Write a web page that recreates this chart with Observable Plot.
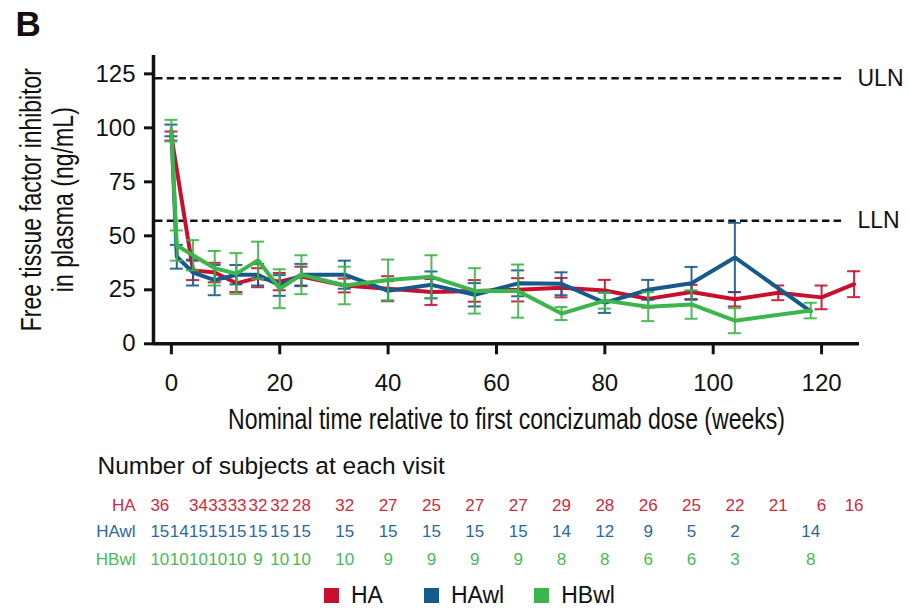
<!DOCTYPE html>
<html>
<head>
<meta charset="utf-8">
<script src="https://cdn.jsdelivr.net/npm/d3@7"></script>
<script src="https://cdn.jsdelivr.net/npm/@observablehq/plot@0.6"></script>
<style>
  body { margin: 0; background: #fff; font-family: "Liberation Sans", Arial, Helvetica, sans-serif; }
  #chart { width: 909px; }
  .legend { display: flex; align-items: center; height: 35px; padding-left: 324px; font-size: 23px; color: #111; }
  .legend .item { display: flex; align-items: center; }
  .legend .item:nth-child(1) { margin-right: 41px; }
  .legend .item:nth-child(2) { margin-right: 30px; }
  .legend .sw { width: 15px; height: 15px; margin-right: 12px; }
</style>
</head>
<body>
<div id="chart"></div>
<script>
// Visit schedule (nominal weeks) per cohort
const weeksHA = [0, 4, 8, 12, 16, 20, 24, 32, 40, 48, 56, 64, 72, 80, 88, 96, 104, 112, 120, 126];
const weeksWL = [0, 1, 4, 8, 12, 16, 20, 24, 32, 40, 48, 56, 64, 72, 80, 88, 96, 104, 118];

// Mean free TFPI (ng/mL) and error bar half-widths
const meanHA   = [96.2, 34, 33, 28, 30.6, 28.8, 31.2, 27, 25.5, 24, 24.5, 25, 26, 24.7, 20.8, 24, 20.6, 23.6, 21.5, 27.6];
const errHA    = [2.1, 4.5, 4.5, 4, 4.4, 4, 4.5, 3.2, 5.8, 6, 5, 5.4, 4.5, 4.9, 4, 3.3, 3.3, 3.4, 5.5, 6];
const meanHAwl = [98.8, 40.3, 33, 29.5, 32, 32, 27, 32, 32, 24.5, 27.3, 22.7, 28, 27.8, 19, 25, 28, 40, 15];
const errHAwl  = [2.7, 5.5, 6, 7, 4.5, 5, 4.8, 5, 6.5, 4.5, 6.2, 5.4, 6, 5.3, 4.7, 4.6, 7.6, 16, null];
const meanHBwl = [98.7, 45.5, 41, 35, 32.5, 38.7, 25.5, 32, 27, 29.5, 31, 24.5, 24.4, 14, 20, 17.2, 18.2, 10.7, 15.4];
const errHBwl  = [5, 7, 7, 8, 9.5, 8.6, 9, 9, 8.7, 9.5, 10, 10.5, 12.3, 3, 3.7, 6.7, 6.6, 5.8, 3.6];

// Number of subjects at each visit
const nHA   = [36, 34, 33, 33, 32, 32, 28, 32, 27, 25, 27, 27, 29, 28, 26, 25, 22, 21, 6, 16];
const nHAwl = [15, 14, 15, 15, 15, 15, 15, 15, 15, 15, 15, 15, 15, 14, 12, 9, 5, 2, 14];
const nHBwl = [10, 10, 10, 10, 10, 9, 10, 10, 10, 9, 9, 9, 9, 8, 8, 6, 6, 3, 8];

// Normal range limits
const ULN = 123;
const LLN = 57;

const xTicks = [0, 20, 40, 60, 80, 100, 120];
const yTicks = [0, 25, 50, 75, 100, 125];
const cohortNames = ["HA", "HAwl", "HBwl"];
const lineColors = ["#c8102e", "#165a8c", "#3cb54a"];
const textColors = ["#d02a40", "#2c68a0", "#48b957"];

const xTitle = "Nominal time relative to first concizumab dose (weeks)";
const yTitle = ["Free tissue factor inhibitor", "in plasma (ng/mL)"];

const groups = [
  {name: "HA",   weeks: weeksHA, mean: meanHA,   err: errHA,   n: nHA},
  {name: "HAwl", weeks: weeksWL, mean: meanHAwl, err: errHAwl, n: nHAwl},
  {name: "HBwl", weeks: weeksWL, mean: meanHBwl, err: errHBwl, n: nHBwl}
];

const points = groups.flatMap(g => g.weeks.map((w, i) => ({
  group: g.name, week: w, mean: g.mean[i], err: g.err[i], n: g.n[i]
})));

// Layout
const W = 909, H = 578;
const margin = {top: 55, right: 50, bottom: H - 343.3, left: 153};
const xDomain = [-3.3, 127];
const yDomain = [0, 133.5];

// Table columns: start at visit weeks, then nudge apart so neighbouring counts don't collide
const pxPerWeek = (W - margin.left - margin.right) / (xDomain[1] - xDomain[0]);
const tableFont = 17, digitW = 0.556 * tableFont, labelGap = 0.4;
const colPos = new Map();
groups.forEach(g => g.weeks.forEach(w => colPos.set(w, w)));
const constraints = [];
groups.forEach(g => {
  for (let i = 1; i < g.weeks.length; i++) {
    const wA = String(g.n[i - 1]).length * digitW, wB = String(g.n[i]).length * digitW;
    constraints.push([g.weeks[i - 1], g.weeks[i], ((wA + wB) / 2 + labelGap) / pxPerWeek]);
  }
});
for (let it = 0; it < 400; it++) {
  for (const [a, b, sep] of constraints) {
    const d = colPos.get(b) - colPos.get(a);
    if (d < sep) {
      const s = (sep - d) / 2;
      colPos.set(a, colPos.get(a) - s);
      colPos.set(b, colPos.get(b) + s);
    }
  }
}
const rowOffsets = {HA: 161.4, HAwl: 187.9, HBwl: 215.9};

const seriesMarks = groups.flatMap((g, gi) => {
  const data = points.filter(d => d.group === g.name);
  const bars = data.filter(d => d.err != null);
  const c = lineColors[gi];
  return [
    Plot.ruleX(bars, {x: "week", y1: d => d.mean - d.err, y2: d => d.mean + d.err, stroke: c, strokeWidth: 2, strokeOpacity: 0.9}),
    Plot.ruleY(bars, {y: d => d.mean - d.err, x1: "week", x2: "week", insetLeft: -6.5, insetRight: -6.5, stroke: c, strokeWidth: 2, strokeOpacity: 0.9}),
    Plot.ruleY(bars, {y: d => d.mean + d.err, x1: "week", x2: "week", insetLeft: -6.5, insetRight: -6.5, stroke: c, strokeWidth: 2, strokeOpacity: 0.9}),
    Plot.line(data, {x: "week", y: "mean", stroke: c, strokeWidth: 4, strokeLinejoin: "miter"})
  ];
});

const tableMarks = groups.map((g, gi) => Plot.text(points.filter(d => d.group === g.name), {
  x: d => colPos.get(d.week), text: d => String(d.n), frameAnchor: "bottom", lineAnchor: "middle",
  dy: rowOffsets[g.name], fill: textColors[gi], fontSize: tableFont
}));

const plot = Plot.plot({
  width: W,
  height: H,
  marginTop: margin.top,
  marginRight: margin.right,
  marginBottom: margin.bottom,
  marginLeft: margin.left,
  style: {fontFamily: "'Liberation Sans', Arial, Helvetica, sans-serif", fontSize: "24px", color: "#111", overflow: "visible"},
  x: {domain: xDomain, axis: null},
  y: {domain: yDomain, axis: null},
  marks: [
    // reference range
    Plot.ruleY([ULN, LLN], {stroke: "#111", strokeWidth: 2.6, strokeDasharray: "7.5,4.2", insetLeft: 2, insetRight: 15}),
    Plot.text([{v: ULN, t: "ULN"}, {v: LLN, t: "LLN"}], {y: "v", text: "t", frameAnchor: "right", textAnchor: "start", lineAnchor: "middle", dx: -2, fontSize: 23, fill: "#111"}),
    ...seriesMarks,
    // axes
    Plot.ruleY([yDomain[0]], {stroke: "#111", strokeWidth: 3.5}),
    Plot.ruleX([xDomain[0]], {stroke: "#111", strokeWidth: 3.5}),
    Plot.axisX({ticks: xTicks, tickSize: 11, tickPadding: 19, strokeWidth: 3, fontSize: 24, label: null}),
    Plot.axisY({ticks: yTicks, tickSize: 9, tickPadding: 9, strokeWidth: 3, fontSize: 24, label: null}),
    Plot.text([xTitle], {frameAnchor: "bottom", lineAnchor: "middle", textAnchor: "middle", dy: 75.5, fontSize: 29, fill: "#111"}),
    Plot.text([yTitle[0]], {frameAnchor: "left", lineAnchor: "middle", textAnchor: "middle", dx: -122, rotate: -90, fontSize: 29, fill: "#111"}),
    Plot.text([yTitle[1]], {frameAnchor: "left", lineAnchor: "middle", textAnchor: "middle", dx: -90, rotate: -90, fontSize: 29, fill: "#111"}),
    Plot.text(["B"], {frameAnchor: "top-left", lineAnchor: "middle", textAnchor: "start", dx: -138, dy: -30.5, fontSize: 35, fontWeight: "bold", fill: "#111"}),
    // subject counts table
    Plot.text(["Number of subjects at each visit"], {frameAnchor: "bottom-left", lineAnchor: "middle", textAnchor: "start", dx: -56, dy: 122.7, fontSize: 24.5, fill: "#111"}),
    ...cohortNames.map((name, i) => Plot.text([name], {frameAnchor: "bottom-left", lineAnchor: "middle", textAnchor: "end", dx: -18, dy: rowOffsets[name], fontSize: tableFont, fill: textColors[i]})),
    ...tableMarks
  ]
});

// Axis titles are set in a narrow face: squeeze them to their condensed widths
const condensedWidths = new Map([[xTitle, 557], [yTitle[0], 263], [yTitle[1], 185]]);
plot.querySelectorAll("text").forEach(t => {
  const w = condensedWidths.get(t.textContent);
  if (w) {
    t.setAttribute("textLength", w);
    t.setAttribute("lengthAdjust", "spacingAndGlyphs");
  }
});

const chart = document.getElementById("chart");
chart.appendChild(plot);

const legend = document.createElement("div");
legend.className = "legend";
cohortNames.forEach((name, i) => {
  const item = document.createElement("div");
  item.className = "item";
  const sw = document.createElement("span");
  sw.className = "sw";
  sw.style.background = lineColors[i];
  const label = document.createElement("span");
  label.textContent = name;
  item.append(sw, label);
  legend.appendChild(item);
});
chart.appendChild(legend);
</script>
</body>
</html>
